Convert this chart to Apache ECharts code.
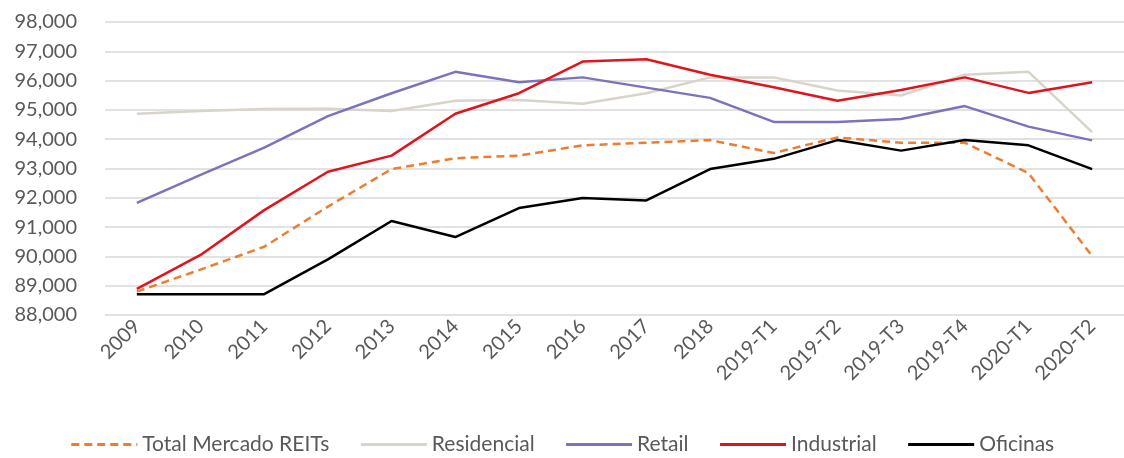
<!DOCTYPE html>
<html>
<head>
<meta charset="utf-8">
<script src="https://cdn.jsdelivr.net/npm/echarts@6/dist/echarts.min.js"></script>
<style>
  html, body { margin: 0; padding: 0; background: #fff; }
  #chart { width: 1124px; height: 458px; }
</style>
</head>
<body>
<div id="chart"></div>
<script>
// categories on the x axis
const categories = ['2009', '2010', '2011', '2012', '2013', '2014', '2015', '2016', '2017', '2018',
  '2019-T1', '2019-T2', '2019-T3', '2019-T4', '2020-T1', '2020-T2'];

// values
const totalMercado = [88800, 89550, 90330, 91700, 92980, 93350, 93440, 93790, 93880, 93970,
  93530, 94060, 93880, 93880, 92840, 90010];
const residencial = [94870, 94960, 95030, 95040, 94960, 95310, 95340, 95210, 95570, 96110,
  96110, 95660, 95490, 96200, 96300, 94240];
const retail = [91830, 92780, 93710, 94790, 95570, 96300, 95940, 96110, 95760, 95410,
  94590, 94590, 94690, 95130, 94430, 93960];
const industrial = [88890, 90050, 91580, 92890, 93440, 94870, 95570, 96650, 96730, 96200,
  95770, 95310, 95680, 96110, 95580, 95940];
const oficinas = [88710, 88710, 88710, 89900, 91210, 90660, 91650, 91990, 91910, 92980,
  93330, 93970, 93610, 93970, 93790, 92980];

const fontFamily = 'Lato, "Noto Sans", sans-serif';
const textColor = '#595959';

let chart = echarts.init(document.getElementById('chart'));

function line(name, data, color, type) {
  return {
    name: name,
    type: 'line',
    data: data,
    symbol: 'none',
    lineStyle: { color: color, width: 2.5, type: type || 'solid' },
    itemStyle: { color: color },
    emphasis: { disabled: true }
  };
}

let option = {
  animation: false,
  grid: { left: 105, right: -6, top: 22, bottom: 143, containLabel: false },
  xAxis: {
    type: 'category',
    data: categories,
    boundaryGap: true,
    axisLine: { show: false },
    axisTick: { show: false },
    axisLabel: {
      rotate: 45,
      interval: 0,
      margin: 8,
      color: textColor,
      fontSize: 20,
      fontFamily: fontFamily
    }
  },
  yAxis: {
    type: 'value',
    min: 88000,
    max: 98000,
    interval: 1000,
    axisLine: { show: false },
    axisTick: { show: false },
    splitLine: { lineStyle: { color: '#d9d9d9', width: 1.5 } },
    axisLabel: {
      margin: 28,
      color: textColor,
      fontSize: 20,
      fontFamily: fontFamily,
      formatter: v => v.toLocaleString('en-US')
    }
  },
  legend: {
    bottom: -2,
    left: 'center',
    itemWidth: 66,
    itemHeight: 14,
    itemGap: 30,
    itemStyle: { opacity: 0 },
    lineStyle: { width: 3 },
    textStyle: { color: textColor, fontSize: 21, fontFamily: fontFamily },
    data: ['Total Mercado REITs', 'Residencial', 'Retail', 'Industrial', 'Oficinas']
  },
  series: [
    line('Total Mercado REITs', totalMercado, '#ed7d31', [8, 5]),
    line('Residencial', residencial, '#d9d4ca'),
    line('Retail', retail, '#7b74bc'),
    line('Industrial', industrial, '#e0141e'),
    line('Oficinas', oficinas, '#000000')
  ]
};

chart.setOption(option);
window.onresize = function () {
  chart.resize();
};
</script>
</body>
</html>
